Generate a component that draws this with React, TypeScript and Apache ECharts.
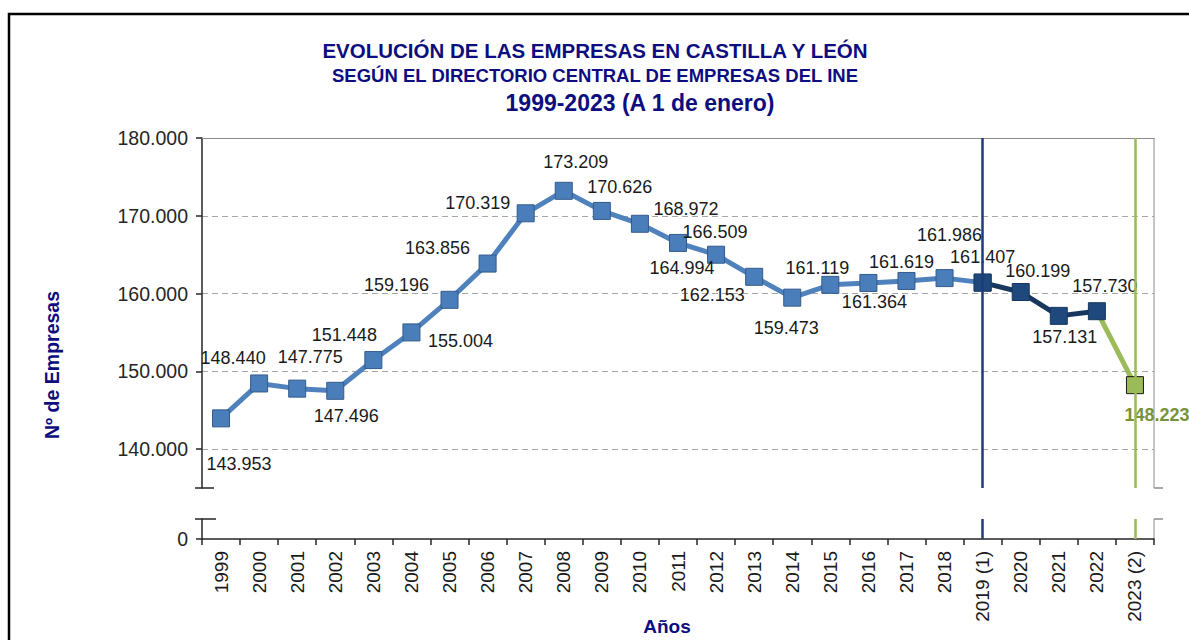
import React, { useEffect, useRef } from 'react';
import * as echarts from 'echarts';

// ---------- data ----------
const categories = [
  '1999', '2000', '2001', '2002', '2003', '2004', '2005', '2006', '2007', '2008',
  '2009', '2010', '2011', '2012', '2013', '2014', '2015', '2016', '2017', '2018',
  '2019 (1)', '2020', '2021', '2022', '2023 (2)',
];
const empresas = [
  143953, 148440, 147775, 147496, 151448, 155004, 159196, 163856, 170319, 173209,
  170626, 168972, 166509, 164994, 162153, 159473, 161119, 161364, 161619, 161986,
  161407, 160199, 157131, 157730, 148223,
];
// index ranges of the three line segments
const segmentBlue = [0, 20];
const segmentNavy = [20, 23];
const segmentGreen = [23, 24];
const markerCategories = ['2019 (1)', '2023 (2)'];
const titleLines = [
  'EVOLUCIÓN DE LAS EMPRESAS EN CASTILLA Y LEÓN',
  'SEGÚN EL DIRECTORIO CENTRAL DE EMPRESAS DEL INE',
  '1999-2023 (A 1 de enero)',
];
const yAxisTitle = 'Nº de Empresas';
const xAxisTitle = 'Años';

// ---------- layout / style (not data) ----------
const labelOffsets: number[][] = [
  [18, 46], [-26, -25], [13, -32], [11, 25], [-29, -25], [49, 9], [-53, -15], [-50, -16], [-48, -10], [12, -29],
  [18, -24], [46, -15], [37, -11], [-34, 13], [-42, 18], [-6, 30], [-13, -17], [6, 19], [-5, -19], [5, -43],
  [0, -26], [17, -21], [6, 21], [8, -25], [22, 30],
];
const titleX = [595, 595, 640];
const titleY = [50, 75, 103];
const titleSize = [20.5, 18.5, 23];
const FONT = '"Liberation Sans", Arial, sans-serif';
const PLOT_LEFT = 202;
const PLOT_RIGHT = 1154;
const UP_TOP = 138;
const UP_BOTTOM = 488;
const LOW_TOP = 519;
const LOW_BOTTOM = 539;
const W = 1189;
const H = 640;

const fmt = (v: number) => String(Math.round(v)).replace(/\B(?=(\d{3})+(?!\d))/g, '.');

function segmentData(range: number[], opts: { hideFirst?: boolean; hideFirstSymbol?: boolean; hideLastLabel?: boolean }) {
  return empresas.map((v, i) => {
    if (i < range[0] || i > range[1]) return null;
    const item: any = { value: v, label: { offset: labelOffsets[i] } };
    if (opts.hideFirst && i === range[0]) {
      item.label = { show: false };
      if (opts.hideFirstSymbol) item.symbol = 'none';
    }
    if (opts.hideLastLabel && i === range[1]) item.label = { show: false };
    return item;
  });
}

export default function App() {
  const ref = useRef<HTMLDivElement>(null);
  useEffect(() => {
    if (!ref.current) return;
    const chart = echarts.init(ref.current, undefined, { renderer: 'svg' });
    const baseLabel = {
      show: true,
      position: 'inside',
      formatter: (p: any) => fmt(p.value),
      fontSize: 18,
      color: '#1a1a1a',
      fontFamily: FONT,
    };
    const markLineCommon = () => ({
      silent: true,
      symbol: 'none',
      label: { show: false },
      data: [
        { xAxis: markerCategories[0], lineStyle: { color: '#1f3a78', width: 2.5, type: 'solid' } },
        { xAxis: markerCategories[1], lineStyle: { color: '#9bbb59', width: 2.5, type: 'solid' } },
      ],
    });
    const option: any = {
      animation: false,
      backgroundColor: '#ffffff',
      grid: [
        { left: PLOT_LEFT, right: W - PLOT_RIGHT, top: UP_TOP, height: UP_BOTTOM - UP_TOP },
        { left: PLOT_LEFT, right: W - PLOT_RIGHT, top: LOW_TOP, height: LOW_BOTTOM - LOW_TOP },
      ],
      xAxis: [
        {
          gridIndex: 0,
          type: 'category',
          data: categories,
          position: 'top',
          boundaryGap: true,
          axisLine: { show: true, onZero: false, lineStyle: { color: '#8c8c8c', width: 1 } },
          axisTick: { show: false },
          axisLabel: { show: false },
          splitLine: { show: false },
        },
        {
          gridIndex: 1,
          type: 'category',
          data: categories,
          position: 'bottom',
          boundaryGap: true,
          axisLine: { show: true, lineStyle: { color: '#262626', width: 1.5 } },
          axisTick: { show: true, interval: 0, length: 6, lineStyle: { color: '#262626', width: 1.5 } },
          axisLabel: { interval: 0, rotate: 90, margin: 12, fontSize: 19, color: '#1a1a1a', fontFamily: FONT },
          splitLine: { show: false },
        },
      ],
      yAxis: [
        {
          gridIndex: 0,
          type: 'value',
          min: 135000,
          max: 180000,
          splitNumber: 5,
          axisLine: { show: true, lineStyle: { color: '#262626', width: 1.5 } },
          axisTick: { show: true, length: 6, lineStyle: { color: '#262626', width: 1.5 } },
          axisLabel: {
            formatter: (v: number) => fmt(v),
            fontSize: 19.5,
            color: '#262626',
            fontFamily: FONT,
            margin: 14,
            showMinLabel: false,
          },
          splitLine: {
            show: true,
            showMinLine: false,
            showMaxLine: false,
            lineStyle: { color: '#a6a6a6', type: [6, 4], width: 1 },
          },
        },
        {
          gridIndex: 1,
          type: 'value',
          min: 0,
          max: 1000,
          interval: 1000,
          axisLine: { show: true, lineStyle: { color: '#262626', width: 1.5 } },
          axisTick: { show: true, length: 6, lineStyle: { color: '#262626', width: 1.5 } },
          axisLabel: {
            formatter: (v: number) => fmt(v),
            fontSize: 19.5,
            color: '#262626',
            fontFamily: FONT,
            margin: 14,
            showMaxLabel: false,
          },
          splitLine: { show: false },
        },
      ],
      series: [
        {
          name: 'refs',
          type: 'line',
          xAxisIndex: 0,
          yAxisIndex: 0,
          data: [],
          z: 1,
          markLine: markLineCommon(),
        },
        {
          name: 'refsLow',
          type: 'line',
          xAxisIndex: 1,
          yAxisIndex: 1,
          data: [],
          z: 1,
          markLine: markLineCommon(),
        },
        {
          name: 'Empresas 1999-2019',
          type: 'line',
          xAxisIndex: 0,
          yAxisIndex: 0,
          data: segmentData(segmentBlue, { hideLastLabel: true }),
          symbol: 'rect',
          symbolSize: 17,
          showAllSymbol: true,
          clip: false,
          lineStyle: { color: '#4f81bd', width: 5 },
          itemStyle: { color: '#4a7ebb', borderColor: '#335a8a', borderWidth: 1 },
          label: baseLabel,
          z: 2,
        },
        {
          name: 'Empresas 2022-2023',
          type: 'line',
          xAxisIndex: 0,
          yAxisIndex: 0,
          data: segmentData(segmentGreen, { hideFirst: true, hideFirstSymbol: true }),
          symbol: 'rect',
          symbolSize: 17,
          showAllSymbol: true,
          clip: false,
          lineStyle: { color: '#9bbb59', width: 5 },
          itemStyle: { color: '#9bbb59', borderColor: '#1a1a1a', borderWidth: 1 },
          label: { ...baseLabel, color: '#77933c', fontWeight: 'bold' },
          z: 2,
        },
        {
          name: 'Empresas 2019-2022',
          type: 'line',
          xAxisIndex: 0,
          yAxisIndex: 0,
          data: segmentData(segmentNavy, {}),
          symbol: 'rect',
          symbolSize: 17,
          showAllSymbol: true,
          clip: false,
          lineStyle: { color: '#17375e', width: 5 },
          itemStyle: { color: '#1f497d', borderColor: '#17375e', borderWidth: 1 },
          label: baseLabel,
          z: 2,
        },
      ],
      graphic: [
        {
          type: 'rect',
          shape: { x: 9, y: 14, width: W + 50, height: H + 50 },
          style: { fill: 'none', stroke: '#000000', lineWidth: 2.5 },
          silent: true,
        },
        ...titleLines.map((t, i) => ({
          type: 'text',
          x: titleX[i],
          y: titleY[i],
          style: {
            text: t,
            align: 'center',
            verticalAlign: 'middle',
            fontSize: titleSize[i],
            fontWeight: 'bold',
            fontFamily: FONT,
            fill: '#0d0d80',
          },
          silent: true,
        })),
        {
          type: 'text',
          x: 52,
          y: 365,
          rotation: Math.PI / 2,
          style: {
            text: yAxisTitle,
            align: 'center',
            verticalAlign: 'middle',
            fontSize: 19.5,
            fontWeight: 'bold',
            fontFamily: FONT,
            fill: '#0d0d80',
          },
          silent: true,
        },
        {
          type: 'text',
          x: 667,
          y: 626,
          style: {
            text: xAxisTitle,
            align: 'center',
            verticalAlign: 'middle',
            fontSize: 19,
            fontWeight: 'bold',
            fontFamily: FONT,
            fill: '#0d0d80',
          },
          silent: true,
        },
        // right border of plot area (broken)
        { type: 'line', shape: { x1: PLOT_RIGHT, y1: UP_TOP, x2: PLOT_RIGHT, y2: UP_BOTTOM }, style: { stroke: '#8c8c8c', lineWidth: 1 }, silent: true },
        { type: 'line', shape: { x1: PLOT_RIGHT, y1: LOW_TOP, x2: PLOT_RIGHT, y2: LOW_BOTTOM }, style: { stroke: '#8c8c8c', lineWidth: 1 }, silent: true },
        // break caps
        { type: 'line', shape: { x1: PLOT_LEFT - 7, y1: UP_BOTTOM, x2: PLOT_LEFT + 12, y2: UP_BOTTOM }, style: { stroke: '#262626', lineWidth: 1.5 }, silent: true },
        { type: 'line', shape: { x1: PLOT_LEFT - 7, y1: LOW_TOP, x2: PLOT_LEFT + 14, y2: LOW_TOP }, style: { stroke: '#262626', lineWidth: 1.5 }, silent: true },
        { type: 'line', shape: { x1: PLOT_RIGHT, y1: UP_BOTTOM, x2: PLOT_RIGHT + 9, y2: UP_BOTTOM }, style: { stroke: '#8c8c8c', lineWidth: 1.5 }, silent: true },
        { type: 'line', shape: { x1: PLOT_RIGHT, y1: LOW_TOP, x2: PLOT_RIGHT + 9, y2: LOW_TOP }, style: { stroke: '#8c8c8c', lineWidth: 1.5 }, silent: true },
      ],
    };
    chart.setOption(option);
    return () => chart.dispose();
  }, []);
  return (
    <div
      ref={ref}
      style={{ position: 'absolute', left: 0, top: 0, width: W, height: H, background: '#fff' }}
    />
  );
}
